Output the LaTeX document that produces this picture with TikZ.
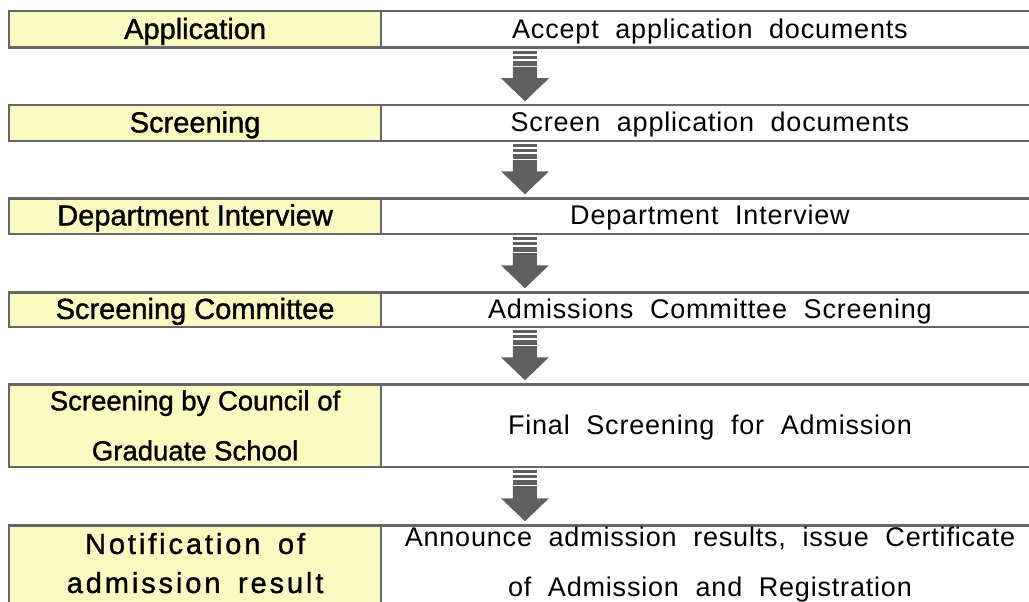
\documentclass[tikz,border=0pt]{standalone}
\usepackage{fontspec}
\setmainfont{Liberation Sans}
\newfontfamily\stageFont[FakeBold=1.2,WordSpace=1.4]{Liberation Sans}
\newfontfamily\councilFont[FakeBold=1.2]{Liberation Sans}
\newfontfamily\noticeFont[FakeBold=1.2,LetterSpace=10,WordSpace=1.6]{Liberation Sans}
\newfontfamily\taskFont[LetterSpace=3,WordSpace=2]{Liberation Sans}
\usetikzlibrary{positioning,calc}
\definecolor{stageYellow}{HTML}{FAFAC0}
\definecolor{boxGray}{HTML}{666666}
\definecolor{arrowGray}{HTML}{5F5F5F}
\tikzset{
	stageBox/.style={
		draw=boxGray,
		line width=2.5pt,
		fill=stageYellow,
		minimum width=371.75pt,
		inner sep=0pt,
		outer sep=0pt,
		align=center,
		font=\stageFont\fontsize{29}{50}\selectfont
	},
	taskBox/.style={
		draw=boxGray,
		line width=2.5pt,
		fill=white,
		minimum width=658pt,
		inner sep=0pt,
		outer sep=0pt,
		align=center,
		font=\taskFont\fontsize{27}{50}\selectfont
	},
	oneStage/.style={text height=24.6pt, text depth=5.8pt},
	oneTask/.style={text height=23pt, text depth=5.4pt},
}
% block arrow with three bars, from one row down to the next
\newcommand{\stepArrow}[2]{%
	\coordinate (#1top) at ($(#1.south west)+(144,3.25)$);
	\coordinate (#1tip) at ($(#2.north west)+(144,-4)$);
	\fill[arrowGray] ($(#1top)+(-12,0)$) rectangle ($(#1top)+(12,3)$);
	\fill[arrowGray] ($(#1top)+(-12,5)$) rectangle ($(#1top)+(12,8)$);
	\fill[arrowGray] ($(#1top)+(-12,10)$) rectangle ($(#1top)+(12,15)$);
	\fill[arrowGray] ($(#1top)+(-12,16)$) -- ($(#1top)+(12,16)$)
		-- ($(#1tip)+(12,-23)$) -- ($(#1tip)+(24,-23)$) -- (#1tip)
		-- ($(#1tip)+(-24,-23)$) -- ($(#1tip)+(-12,-23)$) -- cycle;
}

\begin{document}
\begin{tikzpicture}[x=1pt, y=-1pt]
\useasboundingbox (0,0) rectangle (1029,602);

\node[stageBox, oneStage, minimum height=36.5pt] (S1) at (195.1,29.5) {Application};
\node[taskBox, oneTask, minimum height=36.5pt, right=0pt of S1] (T1) {Accept application documents};

\node[stageBox, oneStage, minimum height=35.5pt] (S2) at (195.1,123) {Screening};
\node[taskBox, oneTask, minimum height=35.5pt, right=0pt of S2] (T2) {Screen application documents};

\node[stageBox, oneStage, minimum height=35.5pt] (S3) at (195.1,216) {Department Interview};
\node[taskBox, oneTask, minimum height=35.5pt, right=0pt of S3] (T3) {Department Interview};

\node[stageBox, oneStage, minimum height=34.5pt] (S4) at (195.1,309.5) {Screening Committee};
\node[taskBox, oneTask, minimum height=34.5pt, right=0pt of S4] (T4) {Admissions Committee Screening};

\node[stageBox, minimum height=82.5pt,
	font=\councilFont\fontsize{27.5}{50}\selectfont] (S5) at (195.1,425.5) {Screening by Council of\\Graduate School};
\node[taskBox, oneTask, minimum height=82.5pt, right=0pt of S5] (T5) {Final Screening for Admission};

\node[stageBox, minimum height=90pt, text depth=14.6pt,
	font=\noticeFont\fontsize{29}{39}\selectfont] (S6) at (195.1,570.25) {Notification of\\admission result};
\node[taskBox, minimum height=90pt, text depth=17pt, right=0pt of S6] (T6) {Announce admission results, issue Certificate\\of Admission and Registration};

\foreach \a/\b in {T1/T2,T2/T3,T3/T4,T4/T5,T5/T6}{
	\stepArrow{\a}{\b}
}
\end{tikzpicture}
\end{document}
